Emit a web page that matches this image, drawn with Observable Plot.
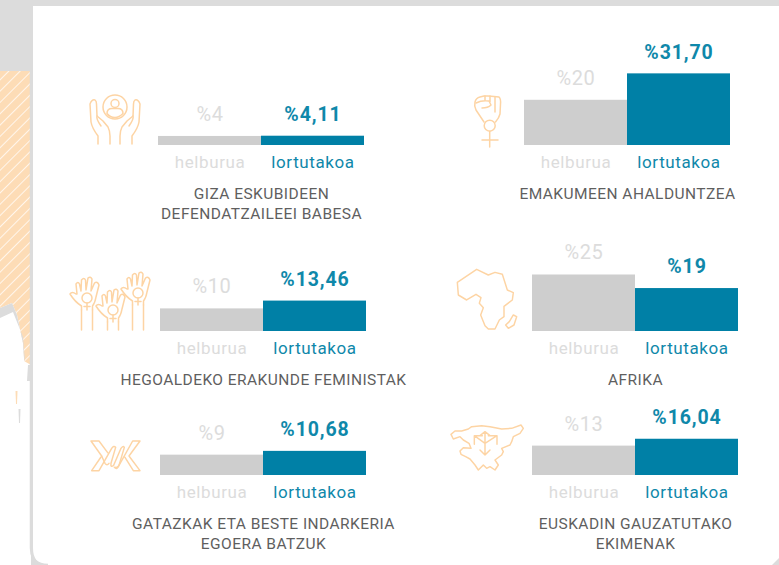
<!DOCTYPE html>
<html><head><meta charset="utf-8">
<script src="https://cdn.jsdelivr.net/npm/d3@7"></script>
<script src="https://cdn.jsdelivr.net/npm/@observablehq/plot@0.6"></script>
<style>
html,body{margin:0;padding:0;width:779px;height:565px;overflow:hidden;background:#dcdcdc;}
#bg{position:absolute;left:0;top:0;}
.panel{position:absolute;width:340px;}
.panel svg{overflow:visible;background:transparent;max-width:none !important;}
.val{letter-spacing:.6px;}
.valb{letter-spacing:.9px;}
.cat{letter-spacing:.6px;}
.ttl{letter-spacing:.45px;}
.ico{fill:none;stroke:#fdd4a4;stroke-width:1.5;stroke-linecap:round;stroke-linejoin:round;}
.ico3{fill:none;stroke:#fdd4a4;stroke-width:4.4;stroke-linecap:round;stroke-linejoin:round;}
</style></head>
<body>
<svg id="bg" width="779" height="565" viewBox="0 0 779 565">
  <defs>
    <pattern id="hatch" width="8" height="8" patternUnits="userSpaceOnUse" patternTransform="rotate(45)">
      <rect width="8" height="8" fill="#fddcb6"/><rect width="1" height="8" fill="#fff6ec"/>
    </pattern>
    <g id="hand" class="ico">
      <path d="M-5.5 13L-5.5 9Q-12 5 -17 -3Q-15 -6 -11 -3L-10 -3L-11 -13Q-9 -16 -7.5 -13L-6 -6L-5.5 -17Q-3 -20 -1.5 -17L-1 -7L1 -19Q3.5 -21 5 -18L4 -6L7.5 -14Q10.5 -16 12 -12L9 0Q8 6 5.5 9L5.5 13"/>
      <circle cx="0" cy="1" r="5"/><path d="M0 6V13M-3 9.5H3"/>
    </g>
  </defs>
  <rect width="779" height="565" fill="#dcdcdc"/>
  <path d="M0 71H31V565H0Z" fill="#fff"/>
  <path d="M0 71H31V365L24 361L24 358L23 343L17 315L12 303L0 308Z" fill="url(#hatch)"/>
  <path d="M0 308L12 303L17 315L23 343L24 358L25 362L23 337L13 312L0 318Z" fill="#dcdcdc"/>
  <path d="M28 365H31V381H27Z" fill="#dcdcdc"/>
  <path d="M15.5 391H17.5L17 404H16Z" fill="#fddcb6"/>
  <path d="M18.5 409H20.5L20 423H19Z" fill="#dcdcdc"/>
  <path d="M33 6H779V558L772 565H48Q33 565 33 548Z" fill="#fff"/>
  <path d="M31 71V548Q31 565 48 565" fill="none" stroke="#dcdcdc" stroke-width="2.5"/>
  <path d="M31 6V71" stroke="#dcdcdc" stroke-width="2.5"/>
  <!-- hands with person -->
  <g class="ico">
    <circle cx="115" cy="107" r="12"/><circle cx="115" cy="103.5" r="4"/>
    <path d="M107 113.5Q107 108.5 112 108.5H118Q123 108.5 123 113.5Q119 117.5 115 117.5Q110 117.5 107 113.5Z"/>
    <path d="M98 144V136Q92 128 91 122L90 104Q92 99 95 100Q96.5 101 96.5 104L97 116L103 121L108 127Q110 131 110 136V144"/>
    <path d="M97 116Q96 119 101 126"/>
    <path d="M132 144V136Q138 128 139 122L140 104Q138 99 135 100Q133.5 101 133.5 104L133 116L127 121L122 127Q120 131 120 136V144"/>
    <path d="M133 116Q134 119 129 126"/>
  </g>
  <!-- three raised hands -->
  <use href="#hand" x="87" y="297"/><use href="#hand" x="113" y="309"/><use href="#hand" x="138" y="292"/>
  <g class="ico">
    <path d="M81.5 310V330M92.5 310V330M107.5 322V330M118.5 322V330M132.5 305V330M143.5 305V330"/>
  </g>
  <!-- barbed wire -->
  <g class="ico3" transform="translate(85,430) scale(.3333)">
    <path d="M18 33H42L68 68M18 33L50 78L20 122H42L80 55Q86 46 92 52L78 100Q76 114 86 106L108 55Q114 46 118 52L104 100Q100 114 92 112"/>
    <path d="M165 33H143L100 110Q95 120 88 112M165 33L132 78L165 122H145L120 82"/>
    <path d="M50 78L60 100Q66 108 72 100"/>
  </g>
  <!-- fist with venus -->
  <g class="ico">
    <circle cx="489.7" cy="125.7" r="5.5"/>
    <path d="M489.7 131.2V147M482 140H498"/>
    <path d="M484 122L476 110Q474 106 475 102Q476 98 480 97L484 96L488 96L494 96.5L499 97Q501 99 500.5 104L500 114Q499 118 495.5 122"/>
    <path d="M476 103Q482 100 489 101L491 105Q488 108 482 108M485 96V100M490 96V102M495 97V112"/>
  </g>
  <!-- Africa -->
  <g class="ico3" transform="translate(450,265) scale(.3333)">
    <path d="M22 52L80 13L115 30L135 22L157 28L172 75L190 83L187 105L162 124L162 155L148 165L135 192L115 192L105 182L92 150L100 128L88 115L93 98L78 88L50 105L25 90Z"/>
    <path d="M190 150L200 155L192 180L175 190L167 180L178 170Z"/>
  </g>
  <!-- Basque Country -->
  <g class="ico3" transform="translate(445,415) scale(.3333)">
    <path d="M18 58L30 48L50 48L70 42L80 35L110 32L135 35L170 42L200 40L228 30L235 40L225 55L205 65L200 80L195 90L170 100L175 110L170 120L150 135L160 150L150 165L135 155L125 160L115 150L100 165L90 150L75 132L62 125L48 118L45 108L55 98L78 100L72 85L55 75L45 65L25 72Z"/>
    <path d="M120 50V120M105 105L120 120L135 105M105 62L120 50L135 62M120 85L88 62M88 88V62H112M120 85L156 62M130 62H156V88"/>
  </g>
</svg>
<script>
const categories = ["helburua", "lortutakoa"];
const titles = [
  "GIZA ESKUBIDEEN\nDEFENDATZAILEEI BABESA",
  "EMAKUMEEN AHALDUNTZEA",
  "HEGOALDEKO ERAKUNDE FEMINISTAK",
  "AFRIKA",
  "GATAZKAK ETA BESTE INDARKERIA\nEGOERA BATZUK",
  "EUSKADIN GAUZATUTAKO\nEKIMENAK"
];
const targets  = [4, 20, 10, 25, 9, 13];
const achieved = [4.11, 31.70, 13.46, 19, 10.68, 16.04];

const barColors  = {helburua: "#cecece", lortutakoa: "#0080a6"};
const textColors = {helburua: "#dcdcdc", lortutakoa: "#0f88aa"};

const barLefts  = [158, 524, 160, 532, 160, 532];
const baselines = [145, 145, 331, 331, 475, 475];

const PX_PER_UNIT = 2.26, H = 110, BAR_W = 206, SIDE = 67, BOTTOM = 90;
const fontFamily = "Roboto, sans-serif";
const fmt = v => "%" + (Number.isInteger(v) ? String(v) : v.toFixed(2).replace(".", ","));

titles.forEach((title, i) => {
  const target = [{category: categories[0], value: targets[i]}];
  const got = [{category: categories[1], value: achieved[i]}];
  const rows = [...target, ...got];
  const plot = Plot.plot({
    width: BAR_W + 2 * SIDE,
    height: H + BOTTOM,
    marginTop: 0, marginBottom: BOTTOM, marginLeft: SIDE, marginRight: SIDE,
    x: {domain: categories, padding: 0, axis: null},
    y: {domain: [0, H / PX_PER_UNIT], axis: null},
    marks: [
      Plot.barY(rows, {x: "category", y: "value", fill: d => barColors[d.category]}),
      Plot.text(target, {
        x: "category", y: "value", text: d => fmt(d.value), dy: -22,
        fill: textColors.helburua, fontFamily, fontSize: 20, fontWeight: 400, className: "val"
      }),
      Plot.text(got, {
        x: "category", y: "value", text: d => fmt(d.value), dy: -21.5,
        fill: textColors.lortutakoa, fontFamily, fontSize: 19.5, fontWeight: 700, className: "valb"
      }),
      Plot.text(rows, {
        x: "category", y: () => 0, text: "category", dy: 17,
        fill: d => textColors[d.category], fontFamily, fontSize: 17, className: "cat"
      }),
      Plot.text([title], {
        frameAnchor: "bottom", lineAnchor: "top", dy: 38.5, lineHeight: 1.32,
        fill: "#5f5f5f", fontFamily, fontSize: 15.5, className: "ttl"
      })
    ]
  });
  const holder = document.createElement("div");
  holder.className = "panel";
  holder.style.left = (barLefts[i] - SIDE) + "px";
  holder.style.top = (baselines[i] - H) + "px";
  holder.appendChild(plot);
  document.body.appendChild(holder);
});
</script>
</body></html>
